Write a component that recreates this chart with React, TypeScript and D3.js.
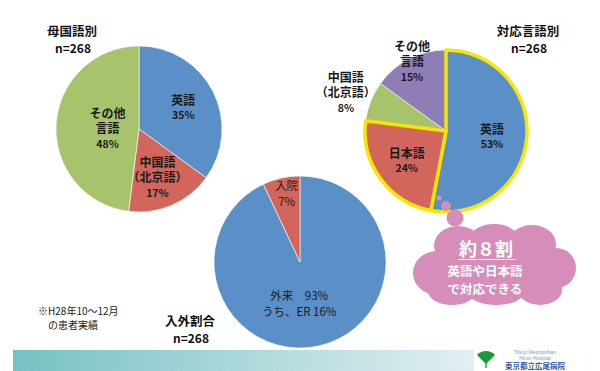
import * as d3 from "d3";
import React, { useEffect, useRef } from "react";

// 母国語別
const nativeLabels = [["英語"], ["中国語", "（北京語）"], ["その他", "言語"]];
const nativeValues = [35, 17, 48];

// 対応言語別
const supportLabels = [["英語"], ["日本語"], ["中国語", "（北京語）"], ["その他", "言語"]];
const supportValues = [53, 24, 8, 15];

// 入外割合
const visitLabels = [["外来　93%", "うち、ER 16%"], ["入院", "7%"]];
const visitValues = [93, 7];

const titles = ["母国語別", "対応言語別", "入外割合"];
const sampleSize = 268;

const FONT = "'Noto Sans CJK JP', 'Noto Sans', sans-serif";
const BLUE = "#5b8fc8";
const RED = "#d2665d";
const GREEN = "#a7c46c";
const PURPLE = "#8f7db6";
const PINK = "#d78dba";
const YELLOW = "#f6e600";

const App = () => {
    const svgRef = useRef<SVGSVGElement>(null);

    useEffect(() => {
        const width = 600;
        const height = 371;
        const svg = d3.select(svgRef.current);
        svg.selectAll("*").remove();
        svg.attr("width", width).attr("height", height);

        const defs = svg.append("defs");
        const grad = defs.append("linearGradient").attr("id", "band").attr("x1", "0").attr("x2", "1");
        grad.append("stop").attr("offset", "0").attr("stop-color", "#76c1c4");
        grad.append("stop").attr("offset", "0.75").attr("stop-color", "#dcecef");
        grad.append("stop").attr("offset", "1").attr("stop-color", "#ffffff");

        const pie = d3.pie<number>().sort(null).value(d => d);

        // draw a pie with labels; labelR = radius factor per slice
        const drawPie = (
            cx: number, cy: number, r: number, values: number[], labels: string[][],
            colors: string[], labelR: number[],
            opts: { bold: boolean; pct: boolean; dx?: number[]; stroke?: (i: number) => string | null; lineH: number; size: number }
        ) => {
            const g = svg.append("g").attr("transform", `translate(${cx},${cy})`);
            const arcs = pie(values);
            const arc = d3.arc<d3.PieArcDatum<number>>().innerRadius(0).outerRadius(r);
            // stroked (highlighted) slices go on top
            const order = arcs.map((_, i) => i).sort((a, b) => (opts.stroke && opts.stroke(a) ? 1 : 0) - (opts.stroke && opts.stroke(b) ? 1 : 0));
            order.forEach(i => {
                const s = opts.stroke ? opts.stroke(i) : null;
                g.append("path")
                    .attr("d", arc(arcs[i]) as string)
                    .attr("fill", colors[i])
                    .attr("stroke", s || "#ffffff")
                    .attr("stroke-width", s ? 3.5 : 0.6)
                    .attr("stroke-linejoin", "round");
            });
            arcs.forEach((a, i) => {
                const lab = d3.arc<d3.PieArcDatum<number>>().innerRadius(r * labelR[i]).outerRadius(r * labelR[i]);
                const [lx, ly] = lab.centroid(a);
                const lines = opts.pct ? [...labels[i], `${values[i]}%`] : labels[i];
                const t = g.append("text")
                    .attr("x", lx + (opts.dx ? opts.dx[i] : 0))
                    .attr("y", ly - ((lines.length - 1) * opts.lineH) / 2)
                    .attr("text-anchor", "middle")
                    .attr("dominant-baseline", "central")
                    .style("font-family", FONT)
                    .style("fill", "#1a1a1a");
                lines.forEach((ln, j) => {
                    const isPct = opts.pct && j === lines.length - 1;
                    t.append("tspan")
                        .attr("x", lx + (opts.dx ? opts.dx[i] : 0))
                        .attr("dy", j === 0 ? 0 : opts.lineH)
                        .style("font-size", isPct ? "10.5px" : `${opts.size}px`)
                        .style("font-weight", opts.bold ? 700 : 400)
                        .text(ln);
                });
            });
        };

        const title = (x: number, y: number, txt: string) => {
            const t = svg.append("text").attr("text-anchor", "middle").style("font-family", FONT).style("font-weight", 700).style("fill", "#111");
            t.append("tspan").attr("x", x).attr("y", y).style("font-size", "12.5px").text(txt);
            t.append("tspan").attr("x", x + 1).attr("dy", 17.5).style("font-size", "12px").text(`n=${sampleSize}`);
        };

        // 母国語別
        drawPie(139, 129, 83, nativeValues, nativeLabels, [BLUE, RED, GREEN], [0.6, 0.62, 0.38],
            { bold: true, pct: true, dx: [0, -2, 0], lineH: 15.5, size: 12 });
        title(72, 35.5, titles[0]);

        // 対応言語別
        drawPie(446, 131, 81, supportValues, supportLabels, [BLUE, RED, GREEN, PURPLE], [0.57, 0.6, 1.33, 0.98],
            { bold: true, pct: true, dx: [0, 0, 0, 2], lineH: 15.5, size: 12, stroke: i => (i < 2 ? YELLOW : null) });
        title(528, 35.5, titles[1]);

        // 入外割合
        drawPie(300, 262, 86, visitValues, visitLabels, [BLUE, RED], [0.49, 0.82],
            { bold: false, pct: false, dx: [-10, 2], lineH: 16, size: 11.5 });
        title(190, 325.5, titles[2]);

        // note
        const note = svg.append("text").style("font-family", FONT).style("font-size", "10px").style("fill", "#222");
        note.append("tspan").attr("x", 38).attr("y", 315).text("※H28年10～12月");
        note.append("tspan").attr("x", 48).attr("dy", 13.5).text("の患者実績");

        // thought bubble
        const bubble = svg.append("g").attr("fill", PINK);
        [[439, 198, 2.6], [446, 206, 5], [455, 218, 8.5]].forEach(([x, y, r]) =>
            bubble.append("circle").attr("cx", x).attr("cy", y).attr("r", r));
        [
            [494, 266, 62, 30], [437, 273, 24, 22], [458, 246, 24, 20], [494, 242, 26, 18], [532, 244, 24, 19],
            [556, 268, 20, 20], [540, 290, 22, 15], [496, 292, 28, 13], [452, 291, 24, 14]
        ].forEach(([x, y, rx, ry]) => bubble.append("ellipse").attr("cx", x).attr("cy", y).attr("rx", rx).attr("ry", ry));
        const bt = svg.append("g").style("font-family", FONT).style("font-weight", 700).attr("fill", "#ffffff").attr("text-anchor", "middle");
        bt.append("text").attr("x", 486).attr("y", 256).style("font-size", "18px").text("約８割");
        bt.append("line").attr("x1", 458).attr("x2", 516).attr("y1", 259.5).attr("y2", 259.5).attr("stroke", "#ffffff").attr("stroke-width", 1.2);
        const bt2 = bt.append("text").style("font-size", "12.5px");
        bt2.append("tspan").attr("x", 485).attr("y", 275.5).text("英語や日本語");
        bt2.append("tspan").attr("x", 485).attr("dy", 18).text("で対応できる");

        // bottom band
        svg.append("rect").attr("x", 13).attr("y", 350).attr("width", 580).attr("height", 21).attr("fill", "url(#band)");
        svg.append("rect").attr("x", 474).attr("y", 349).attr("width", 110).attr("height", 22).attr("fill", "#ffffff");
        svg.append("path")
            .attr("d", "M486,364 L477,355 A12,12 0 0 1 495,355 Z")
            .attr("fill", "#1a9a3a");
        svg.append("rect").attr("x", 485.3).attr("y", 362).attr("width", 1.4).attr("height", 6).attr("fill", "#1a9a3a");
        const logo = svg.append("text").style("font-family", "'Liberation Sans', sans-serif").attr("text-anchor", "middle");
        logo.append("tspan").attr("x", 535).attr("y", 354).style("font-size", "5px").attr("fill", "#7a9cc4").text("Tokyo Metropolitan");
        logo.append("tspan").attr("x", 535).attr("dy", 6).style("font-size", "5px").attr("fill", "#7a9cc4").text("Hiroo Hospital");
        logo.append("tspan").attr("x", 535).attr("dy", 8.5).style("font-size", "7.5px").style("font-family", FONT).style("font-weight", 700).attr("fill", "#2a5ea8").text("東京都立広尾病院");
    }, []);

    return <svg ref={svgRef} style={{ position: "absolute", left: 0, top: 0, background: "#fff" }} />;
};

export default App;
